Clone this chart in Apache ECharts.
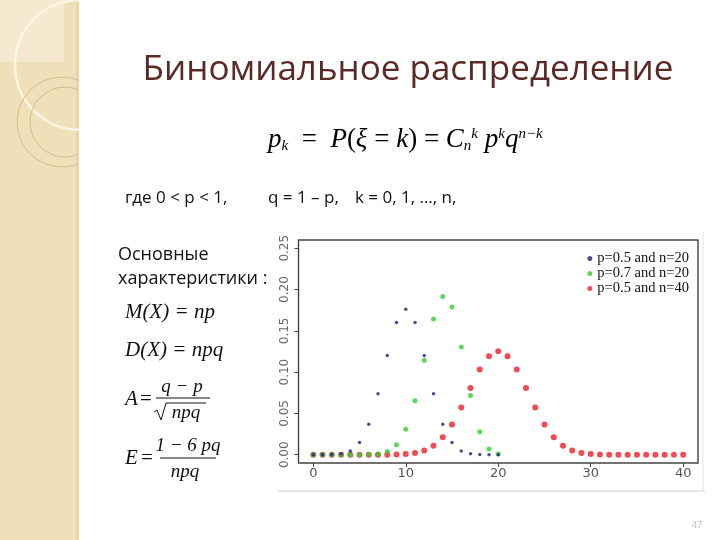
<!DOCTYPE html>
<html>
<head>
<meta charset="utf-8">
<script src="https://cdn.jsdelivr.net/npm/echarts@6/dist/echarts.min.js"></script>
<style>html,body{margin:0;padding:0;background:#fff}#c{width:720px;height:540px}</style>
</head>
<body>
<div id="c"></div>
<script>
// ---- data ----
const seriesNames = ['p=0.5 and n=20', 'p=0.7 and n=20', 'p=0.5 and n=40'];
const kTwenty = [0,1,2,3,4,5,6,7,8,9,10,11,12,13,14,15,16,17,18,19,20];
const kForty = [0,1,2,3,4,5,6,7,8,9,10,11,12,13,14,15,16,17,18,19,20,21,22,23,24,25,26,27,28,29,30,31,32,33,34,35,36,37,38,39,40];
const blueVals = [0.000001,0.000019,0.00018,0.0011,0.0046,0.0148,0.037,0.0739,0.1201,0.1602,0.1762,0.1602,0.1201,0.0739,0.037,0.0148,0.0046,0.0011,0.00018,0.000019,0.000001];
const greenVals = [0,0,0,0,0.000005,0.00004,0.0002,0.001,0.0039,0.012,0.0308,0.0654,0.1144,0.1643,0.1916,0.1789,0.1304,0.0716,0.0278,0.0068,0.0008];
const redVals = [0,0,0,0,0,0,0,0.00002,0.00007,0.00025,0.0008,0.0021,0.0051,0.0109,0.0211,0.0366,0.0572,0.0807,0.1031,0.1194,0.1254,0.1194,0.1031,0.0807,0.0572,0.0366,0.0211,0.0109,0.0051,0.0021,0.0008,0.00025,0.00007,0.00002,0,0,0,0,0,0,0];
const xTicks = [0,10,20,30,40];
const yTicks = [0,0.05,0.10,0.15,0.20,0.25];

const chart = echarts.init(document.getElementById('c'), null, {renderer:'canvas'});
const pairs = (ks, vs) => ks.map((k,i)=>[k, vs[i]]);
const serif = '"Liberation Serif","DejaVu Serif",serif';
const sans = '"Open Sans","Noto Sans",sans-serif';

const mathRich = {
  it: {fontFamily: serif, fontStyle: 'italic', fontSize: 27, color: '#111'},
  rm: {fontFamily: serif, fontSize: 27, color: '#111'},
  sub: {fontFamily: serif, fontStyle: 'italic', fontSize: 15, color: '#111', verticalAlign: 'bottom'},
  sup: {fontFamily: serif, fontStyle: 'italic', fontSize: 15, color: '#111', verticalAlign: 'top'}
};

function txt(x, y, text, size, family, color, extra) {
  return {type:'text', x:x, y:y, z:10, style:Object.assign({text:text, fontSize:size, fontFamily:family, fill:color||'#111', verticalAlign:'middle', align:'left'}, extra||{})};
}
function mtxt(x, y, text, size, align, upright) {
  return {type:'text', x:x, y:y, z:10, style:{text:text, fontSize:size, fontFamily:serif, fontStyle:upright?'normal':'italic', fill:'#111', verticalAlign:'middle', align:align||'left'}};
}

const graphics = [
  // left decorative strip
  {type:'rect', z:0, shape:{x:0,y:0,width:78,height:540}, style:{fill:'#efe0b9'}},
  {type:'rect', z:0, shape:{x:0,y:0,width:64,height:62}, style:{fill:'#f4e9cf'}},
  {type:'rect', z:0, shape:{x:76,y:0,width:3,height:540}, style:{fill:'#e9d7aa'}},
  {type:'circle', z:1, shape:{cx:80,cy:65,r:65}, style:{fill:null, stroke:'#fbf5e6', lineWidth:2.5}},
  {type:'circle', z:1, shape:{cx:62,cy:122,r:45}, style:{fill:null, stroke:'#d2bd8e', lineWidth:1}},
  {type:'circle', z:1, shape:{cx:65,cy:122,r:35}, style:{fill:null, stroke:'#d2bd8e', lineWidth:1}},
  {type:'rect', z:2, shape:{x:79,y:0,width:75,height:200}, style:{fill:'#ffffff'}},
  // title
  txt(408, 70, 'Биномиальное распределение', 35, sans, '#5a2a26', {align:'center'}),
  // main formula
  {type:'text', x:268, y:140, z:10, style:{text:'{it|p}{sub|k}{rm|  =  }{it|P}{rm|(}{it|ξ}{rm| = }{it|k}{rm|) = }{it|C}{sub|n}{sup|k}{it| p}{sup|k}{it|q}{sup|n−k}', rich:mathRich, verticalAlign:'middle', align:'left'}},
  // conditions
  txt(125, 198, 'где 0 < p < 1,', 17, sans, '#111'),
  txt(268, 198, 'q = 1 – p,', 17, sans, '#111'),
  txt(355, 198, 'k = 0, 1, …, n,', 17, sans, '#111'),
  txt(118, 255, 'Основные', 18, sans, '#111'),
  txt(118, 279, 'характеристики :', 18, sans, '#111'),
  mtxt(125, 312, 'M(X) = np', 21),
  mtxt(125, 350, 'D(X) = npq', 21),
  // A = (q-p)/sqrt(npq)
  mtxt(125, 399, 'A', 21),
  mtxt(140, 399, '=', 21, 'left', true),
  mtxt(182, 387, 'q − p', 19, 'center'),
  {type:'line', z:10, shape:{x1:156,y1:398,x2:210,y2:398}, style:{stroke:'#111', lineWidth:1}},
  {type:'polyline', z:10, shape:{points:[[154,412],[157,410],[161,420],[166,403],[206,403]]}, style:{stroke:'#111', lineWidth:1, fill:null}},
  mtxt(186, 413, 'npq', 19, 'center'),
  // E = (1-6pq)/npq
  mtxt(125, 458, 'E', 21),
  mtxt(141, 458, '=', 21, 'left', true),
  mtxt(188, 446, '1 − 6 pq', 19, 'center'),
  {type:'line', z:10, shape:{x1:160,y1:458,x2:216,y2:458}, style:{stroke:'#111', lineWidth:1}},
  mtxt(185, 472, 'npq', 19, 'center'),
  // image frame lines
  {type:'line', z:1, shape:{x1:278,y1:491,x2:705,y2:491}, style:{stroke:'#dcdcdc', lineWidth:1.5}},
  {type:'line', z:1, shape:{x1:703,y1:232,x2:703,y2:491}, style:{stroke:'#e2e2e2', lineWidth:1}},
  // page number
  txt(697, 525, '47', 9, sans, '#bbbbbb', {align:'center'})
];

const option = {
  animation: false,
  backgroundColor: '#ffffff',
  grid: {left: 298.5, right: 22, top: 240, bottom: 77, show: true, borderColor: '#444', borderWidth: 1.4, backgroundColor: 'transparent'},
  xAxis: {
    type: 'value', min: -1.6, max: 41.6,
    axisLine: {show: false, onZero: false},
    splitLine: {show: false},
    axisTick: {show: true, inside: false, length: 4, customValues: xTicks, lineStyle: {color: '#444'}},
    axisLabel: {customValues: xTicks, margin: 4, color: '#555', fontSize: 13, fontFamily: '"DejaVu Sans",sans-serif'}
  },
  yAxis: {
    type: 'value', min: -0.01, max: 0.26,
    axisLine: {show: false, onZero: false},
    splitLine: {show: false},
    axisTick: {show: true, inside: false, length: 4, customValues: yTicks, lineStyle: {color: '#444'}},
    axisLabel: {customValues: yTicks, rotate: 90, margin: 8, color: '#666', fontSize: 12, fontFamily: '"DejaVu Sans",sans-serif', formatter: v => v.toFixed(2)}
  },
  legend: {
    orient: 'vertical', right: 31, top: 251, itemGap: 0, itemWidth: 5, itemHeight: 5,
    icon: 'circle', data: seriesNames,
    textStyle: {fontFamily: serif, fontSize: 14.5, lineHeight: 13.5, color: '#111'},
    padding: 0
  },
  series: [
    {name: seriesNames[2], type: 'scatter', data: pairs(kForty, redVals), symbolSize: 6, itemStyle: {color: '#e8202a'}, z: 2},
    {name: seriesNames[1], type: 'scatter', data: pairs(kTwenty, greenVals), symbolSize: 5, itemStyle: {color: '#38cc33'}, z: 3},
    {name: seriesNames[0], type: 'scatter', data: pairs(kTwenty, blueVals), symbolSize: 3.5, itemStyle: {color: '#1b2577'}, z: 4}
  ],
  graphic: graphics
};
chart.setOption(option);
</script>
</body>
</html>
